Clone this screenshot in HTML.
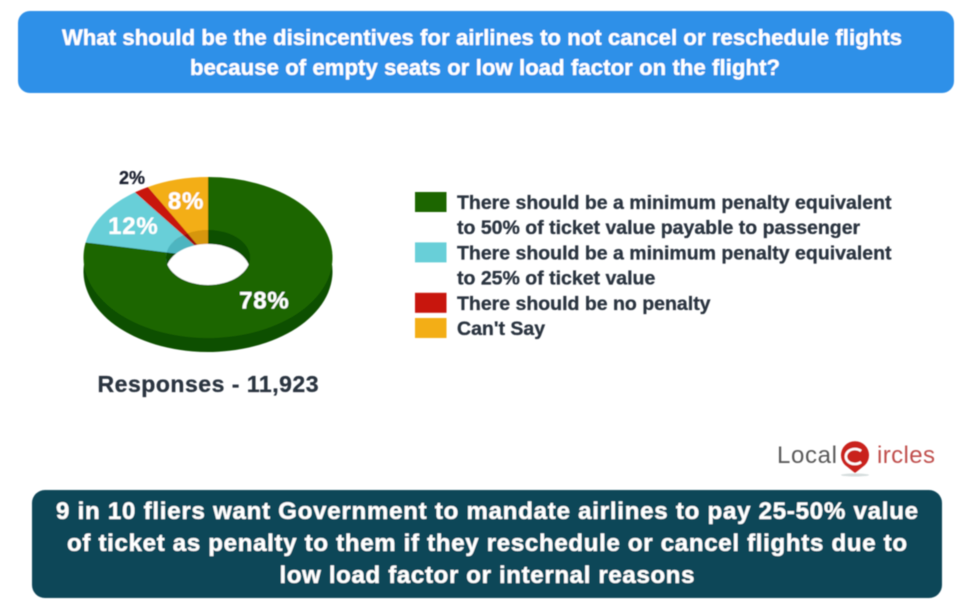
<!DOCTYPE html>
<html lang="en">
<head>
<meta charset="utf-8">
<title>Airline disincentives poll</title>
<style>
html,body{margin:0;padding:0;background:#fff;width:972px;height:610px;overflow:hidden}
svg{display:block}
text{font-family:"Liberation Sans",sans-serif;font-weight:bold;stroke:currentColor;stroke-width:0.3px}
</style>
</head>
<body>
<svg id="chart" width="972" height="610" viewBox="0 0 972 610" xmlns="http://www.w3.org/2000/svg">
  <defs>
    <filter id="soft" x="-5%" y="-5%" width="110%" height="110%"><feGaussianBlur stdDeviation="0.5"/></filter>
  </defs>
  <g filter="url(#soft)">
    <rect x="18" y="11" width="936" height="82" rx="12" fill="#2f90e8"/>
    <text x="482" y="45" text-anchor="middle" font-size="22" fill="#fff" color="#fff" textLength="840" lengthAdjust="spacing">What should be the disincentives for airlines to not cancel or reschedule flights</text>
    <text x="485" y="75" text-anchor="middle" font-size="22" fill="#fff" color="#fff" textLength="590" lengthAdjust="spacing">because of empty seats or low load factor on the flight?</text>

    <g id="donut"></g>
    <g id="legend"></g>

    <text x="208" y="392" text-anchor="middle" font-size="23" fill="#2b3440" color="#2b3440" textLength="221" lengthAdjust="spacing">Responses - 11,923</text>

    <g>
      <text x="777" y="463" font-size="24" fill="#5a5a5a" style="font-weight:normal;stroke:none" textLength="60" lengthAdjust="spacing">Local</text>
      <ellipse cx="855" cy="475" rx="14" ry="1.5" fill="#d5dddd"/>
      <path d="M855 473 L845 465 A14 14 0 1 1 865 465 Z" fill="#c9201c"/>
      <path d="M861 451 A9 7.5 0 1 0 861 462" fill="none" stroke="#fff" stroke-width="2.6"/>
      <text x="877" y="463" font-size="24" fill="#c0504d" style="font-weight:normal;stroke:none" textLength="58" lengthAdjust="spacing">ircles</text>
    </g>

    <rect x="32" y="490" width="910" height="108" rx="13" fill="#0b4759"/>
    <text x="487" y="519" text-anchor="middle" font-size="24" fill="#fff" color="#fff" textLength="862" lengthAdjust="spacing">9 in 10 fliers want Government to mandate airlines to pay 25-50% value</text>
    <text x="487" y="551" text-anchor="middle" font-size="24" fill="#fff" color="#fff" textLength="840" lengthAdjust="spacing">of ticket as penalty to them if they reschedule or cancel flights due to</text>
    <text x="487" y="583" text-anchor="middle" font-size="24" fill="#fff" color="#fff" textLength="415" lengthAdjust="spacing">low load factor or internal reasons</text>
  </g>
</svg>
<script>
const categories = ["min-penalty-50", "min-penalty-25", "no-penalty", "cant-say"];
const shareValues = [78, 12, 2, 8];
const sliceColors = ["#1d6605", "#67cfd8", "#c8130f", "#f3ae16"];
const wallColors = ["#0f4f00", "#4db5c0", "#a00f0c", "#d69610"];
const legendLines = [
  ["There should be a minimum penalty equivalent", "to 50% of ticket value payable to passenger"],
  ["There should be a minimum penalty equivalent", "to 25% of ticket value"],
  ["There should be no penalty"],
  ["Can't Say"]
];

const NS = "http://www.w3.org/2000/svg";
const cx = 208, cy = 257.5, rx = 124.5, ry = 80.5, irx = 42, iry = 27.5, depth = 14;
const donut = document.getElementById("donut");
const legend = document.getElementById("legend");
const total = shareValues.reduce(function (a, b) { return a + b; }, 0);

function angleOf(v) { return v / total * 2 * Math.PI; }
function px(a, r) { return cx + r * Math.sin(a); }
function py(a, r, c) { return c - r * Math.cos(a); }
function make(tag, attrs) {
  const el = document.createElementNS(NS, tag);
  Object.keys(attrs).forEach(function (k) { el.setAttribute(k, attrs[k]); });
  return el;
}
function ringPath(a0, a1, orx, ory, inrx, inry, c) {
  const large = a1 - a0 > Math.PI ? 1 : 0;
  return "M" + px(a0, orx) + " " + py(a0, ory, c) +
    " A" + orx + " " + ory + " 0 " + large + " 1 " + px(a1, orx) + " " + py(a1, ory, c) +
    " L" + px(a1, inrx) + " " + py(a1, inry, c) +
    " A" + inrx + " " + inry + " 0 " + large + " 0 " + px(a0, inrx) + " " + py(a0, inry, c) + " Z";
}

/* extruded outer wall */
let cum = 0;
shareValues.forEach(function (v, i) {
  const a0 = angleOf(cum), a1 = angleOf(cum + v);
  const wall = make("path", { d: ringPath(a0, a1, rx, ry, 0.01, 0.01, cy + depth), fill: wallColors[i] });
  
  
  donut.appendChild(wall);
  cum += v;
});

/* top surface */
cum = 0;
shareValues.forEach(function (v, i) {
  const a0 = angleOf(cum), a1 = angleOf(cum + v);
  const slice = make("path", { d: ringPath(a0, a1, rx, ry, irx, iry, cy), fill: sliceColors[i] });
  
  
  donut.appendChild(slice);
  cum += v;
});

/* inner wall seen through the hole */
cum = 0;
shareValues.forEach(function (v, i) {
  const a0 = angleOf(cum), a1 = angleOf(cum + v);
  const inner = make("path", { d: ringPath(a0, a1, irx, iry, 0.01, 0.01, cy), fill: wallColors[i] });
  
  
  donut.appendChild(inner);
  cum += v;
});

/* hole */
const clip = make("clipPath", { id: "hole-clip" });
clip.appendChild(make("ellipse", { cx: cx, cy: cy, rx: irx, ry: iry }));
donut.appendChild(clip);
const hole = make("ellipse", { cx: cx, cy: cy + depth, rx: irx, ry: iry, fill: "#fff", "clip-path": "url(#hole-clip)" });


donut.appendChild(hole);

/* value labels */
cum = 0;
shareValues.forEach(function (v, i) {
  const mid = angleOf(cum + v / 2);
  const outside = v < 5;
  const f = outside ? 1.14 : 0.71;
  const shade = outside ? "#1d2230" : "#fff";
  const label = make("text", {
    x: px(mid, rx * f),
    y: py(mid, ry * f, cy) + (outside ? 4 : 7),
    "text-anchor": "middle",
    "font-size": outside ? 18 : 24,
    "letter-spacing": outside ? 0 : 0.8,
    fill: shade,
    color: shade
  });
  label.textContent = v + "%";
  
  
  donut.appendChild(label);
  cum += v;
});

/* legend */
const lineHeight = 25.2;
let lineIndex = 0;
legendLines.forEach(function (lines, i) {
  const top = 202 + lineIndex * lineHeight;
  const swatch = make("rect", { x: 415, y: top - 10, width: 31.5, height: 20, fill: sliceColors[i] });
  
  
  legend.appendChild(swatch);
  lines.forEach(function (line, j) {
    const t = make("text", { x: 457, y: top + 7 + j * lineHeight, "font-size": 19.5, fill: "#2b3440", color: "#2b3440" });
    t.textContent = line;
    
    
    legend.appendChild(t);
  });
  lineIndex += lines.length;
});
</script>
</body>
</html>
